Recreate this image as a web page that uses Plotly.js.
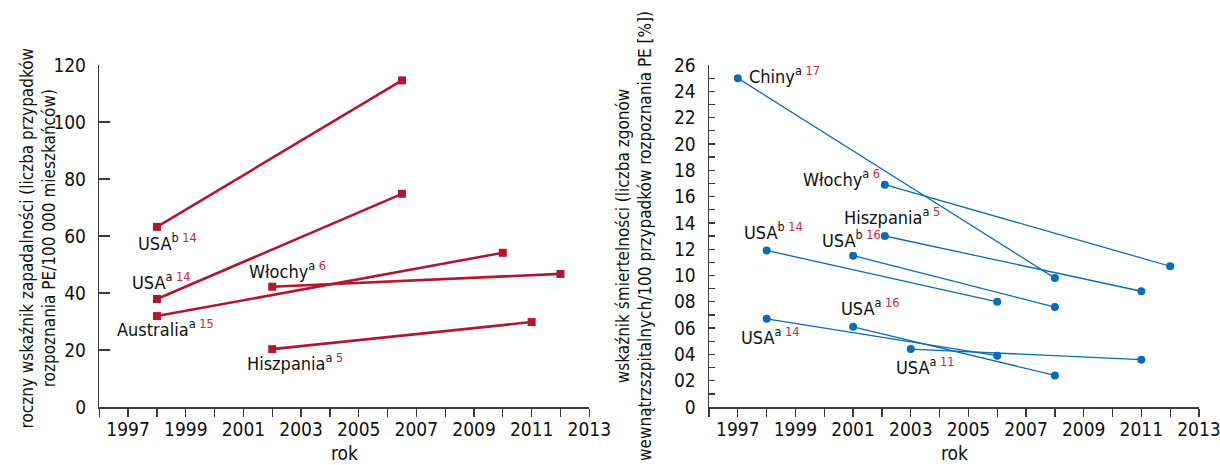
<!DOCTYPE html>
<html>
<head>
<meta charset="utf-8">
<script src="https://cdn.plot.ly/plotly-3.0.1.min.js"></script>
<style>html,body{margin:0;padding:0;background:#fff;} #chart{width:1220px;height:465px;}</style>
</head>
<body>
<div id="chart"></div>
<script>
// ---------- DATA ----------
// Left panel: annual incidence (cases of PE / 100 000 inhabitants)
const incNames = ["USA", "USA", "Australia", "Włochy", "Hiszpania"];
const incSup   = ["b", "a", "a", "a", "a"];
const incRef   = ["14", "14", "15", "6", "5"];
const incX = [[1998, 2006.5], [1998, 2006.5], [1998, 2010], [2002, 2012], [2002, 2011]];
const incY = [[63.2, 114.6], [37.9, 74.8], [31.9, 54.1], [42.2, 46.7], [20.3, 29.8]];

// Right panel: in-hospital mortality (% of PE diagnoses)
const morNames = ["Chiny", "Włochy", "Hiszpania", "USA", "USA", "USA", "USA", "USA"];
const morSup   = ["a", "a", "a", "b", "b", "a", "a", "a"];
const morRef   = ["17", "6", "5", "14", "16", "16", "14", "11"];
const morX = [[1997, 2008], [2002.1, 2012], [2002.1, 2011], [1998, 2006], [2001, 2008], [2001, 2008], [1998, 2006], [2003, 2011]];
const morY = [[25.0, 9.8], [16.9, 10.7], [13.0, 8.8], [11.9, 8.0], [11.5, 7.6], [6.1, 2.4], [6.7, 3.9], [4.4, 3.6]];

const xTickVals = [1997, 1999, 2001, 2003, 2005, 2007, 2009, 2011, 2013];
const leftYTicks = [0, 20, 40, 60, 80, 100, 120];
const rightYTickVals = [0, 2, 4, 6, 8, 10, 12, 14, 16, 18, 20, 22, 24, 26];
const rightYTickText = ["0", "02", "04", "06", "08", "10", "12", "14", "16", "18", "20", "22", "24", "26"];

const xTitle = "rok";
const leftYTitle = "roczny wskaźnik zapadalności (liczba przypadków<br>rozpoznania PE/100 000 mieszkańców)";
const rightYTitle = "wskaźnik śmiertelności (liczba zgonów<br>wewnątrzszpitalnych/100 przypadków rozpoznania PE [%])";

// ---------- STYLE ----------
const FONT = '"Liberation Sans Narrow", "Arial Narrow", "DejaVu Sans Condensed", sans-serif';
const RED = '#b3162f';
const BLUE = '#0b6cb5';
const REFCOL = '#c9283f';
const AXC = '#3a3a3a';

// label offsets (px) relative to the first point of each series
const incOff = [[-20, 15], [-26, -18], [-41, 12], [-24, -17], [-26, 13]];
const morOff = [[10, -3], [-83, -7], [-42, -20], [-24, -19], [-32, -17], [-13, -20], [-27, 17], [-16, 17]];

function label(name, sup, ref) {
  return name + '<sup>' + sup + ' <span style="color:' + REFCOL + '">' + ref + '</span></sup>';
}

const traces = [];
const annotations = [];
incX.forEach((xs, i) => {
  traces.push({
    x: xs, y: incY[i], xaxis: 'x', yaxis: 'y', type: 'scatter', mode: 'lines+markers',
    line: {color: RED, width: 2.6}, marker: {symbol: 'square', size: 8, color: RED},
    showlegend: false, hoverinfo: 'x+y', cliponaxis: false
  });
  annotations.push({
    xref: 'x', yref: 'y', x: xs[0], y: incY[i][0], text: label(incNames[i], incSup[i], incRef[i]),
    showarrow: false, xanchor: 'left', yanchor: 'middle', xshift: incOff[i][0], yshift: -incOff[i][1],
    borderpad: 0, font: {family: FONT, size: 18, color: '#111'}
  });
});
morX.forEach((xs, i) => {
  traces.push({
    x: xs, y: morY[i], xaxis: 'x2', yaxis: 'y2', type: 'scatter', mode: 'lines+markers',
    line: {color: BLUE, width: 1.3}, marker: {symbol: 'circle', size: 8, color: BLUE},
    showlegend: false, hoverinfo: 'x+y', cliponaxis: false
  });
  annotations.push({
    xref: 'x2', yref: 'y2', x: xs[0], y: morY[i][0], text: label(morNames[i], morSup[i], morRef[i]),
    showarrow: false, xanchor: 'left', yanchor: 'middle', xshift: morOff[i][0], yshift: -morOff[i][1],
    borderpad: 0, font: {family: FONT, size: 18, color: '#111'}
  });
});

// y-axis titles (two-line, rotated)
annotations.push({
  xref: 'paper', yref: 'paper', x: 37.5/1220, y: (465-238)/465, text: leftYTitle, textangle: -90,
  showarrow: false, xanchor: 'center', yanchor: 'middle', align: 'center', borderpad: 0,
  font: {family: FONT, size: 17, color: '#111'}
});
annotations.push({
  xref: 'paper', yref: 'paper', x: 634/1220, y: (465-236)/465, text: rightYTitle, textangle: -90,
  showarrow: false, xanchor: 'center', yanchor: 'middle', align: 'center', borderpad: 0,
  font: {family: FONT, size: 17, color: '#111'}
});
// x-axis titles
[[99.3, 589.3], [709, 1199]].forEach(d => {
  annotations.push({
    xref: 'paper', yref: 'paper', x: (d[0] + d[1]) / 2 / 1220, y: 0, text: xTitle,
    showarrow: false, xanchor: 'center', yanchor: 'bottom', borderpad: 0,
    font: {family: FONT, size: 19, color: '#111'}
  });
});

const xAxisBase = {
  range: [1996, 2013], tickvals: xTickVals, ticks: 'outside', ticklen: 8, tickwidth: 1.3, tickcolor: AXC,
  minor: {dtick: 1, tick0: 1996, ticks: 'outside', ticklen: 8, tickwidth: 1.3, tickcolor: AXC},
  showline: true, linecolor: AXC, linewidth: 1.5, showgrid: false, zeroline: false,
  tickfont: {family: FONT, size: 19, color: '#111'}, ticklabeloverflow: 'allow', ticklabelstandoff: -3,
  fixedrange: true
};

const layout = {
  width: 1220, height: 465,
  margin: {l: 0, r: 0, t: 0, b: 0},
  paper_bgcolor: '#fff', plot_bgcolor: '#fff',
  font: {family: FONT, size: 18, color: '#111'},
  xaxis: Object.assign({}, xAxisBase, {domain: [99.3/1220, 589.3/1220], anchor: 'y'}),
  xaxis2: Object.assign({}, xAxisBase, {domain: [709/1220, 1199/1220], anchor: 'y2'}),
  yaxis: {
    domain: [58/465, 400/465], anchor: 'x', range: [0, 120], tickvals: leftYTicks,
    ticks: 'inside', ticklen: 11, tickwidth: 1.3, tickcolor: AXC,
    showline: true, linecolor: AXC, linewidth: 1.5, showgrid: false, zeroline: false,
    tickfont: {family: FONT, size: 19, color: '#111'}, ticklabelstandoff: 8,
    fixedrange: true
  },
  yaxis2: {
    domain: [58/465, 400/465], anchor: 'x2', range: [0, 26], tickvals: rightYTickVals, ticktext: rightYTickText,
    ticks: 'inside', ticklen: 6, tickwidth: 1.3, tickcolor: AXC,
    minor: {dtick: 1, tick0: 0, ticks: 'inside', ticklen: 6, tickwidth: 1.3, tickcolor: AXC},
    showline: true, linecolor: AXC, linewidth: 1.5, showgrid: false, zeroline: false,
    tickfont: {family: FONT, size: 19, color: '#111'}, ticklabelstandoff: 8,
    fixedrange: true
  },
  annotations: annotations,
  showlegend: false
};

Plotly.newPlot('chart', traces, layout, {displayModeBar: false, staticPlot: true});
</script>
</body>
</html>
